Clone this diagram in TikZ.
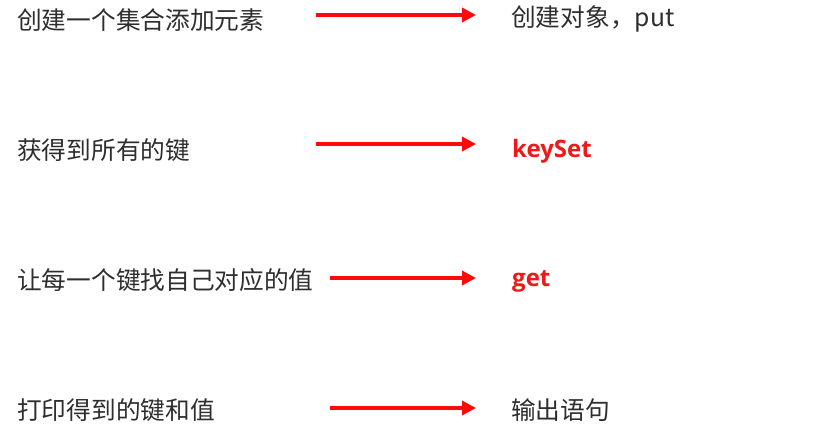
\documentclass[tikz,border=0pt]{standalone}
\usepackage{fontspec}
\usetikzlibrary{arrows.meta}
\newfontfamily\cjk{Noto Sans CJK SC}
\newfontfamily\latinbold{Open Sans Bold}
\definecolor{txtgray}{HTML}{2E2E2E}
\definecolor{arrred}{HTML}{FF0A0A}
\definecolor{keyred}{HTML}{F01818}
\begin{document}
\begin{tikzpicture}[x=1pt,y=-1pt,
  lefttxt/.style={anchor=west,inner sep=0pt,text=txtgray,font=\cjk\fontsize{24.7}{28}\selectfont},
  righttxt/.style={anchor=west,inner sep=0pt,text=txtgray,font=\cjk\fontsize{24.7}{28}\selectfont},
  keytxt/.style={anchor=west,inner sep=0pt,text=keyred,font=\latinbold\fontsize{24}{28}\selectfont},
  redarrow/.style={draw=arrred,line width=3.6pt,-{Triangle[length=14pt,width=14pt]}}]
\useasboundingbox (0,0) rectangle (826,436);
\fill[white] (0,0) rectangle (826,436);
% left texts
\node[lefttxt] (l1) at (17,20) {创建一个集合添加元素};
\node[lefttxt] (l2) at (17,150) {获得到所有的键};
\node[lefttxt] (l3) at (17,280) {让每一个键找自己对应的值};
\node[lefttxt] (l4) at (17,410) {打印得到的键和值};
% right texts
\node[righttxt] (r1) at (511,19) {创建对象，put};
\node[keytxt] (r2) at (512,151) {keySet};
\node[keytxt] (r3) at (512,281) {get};
\node[righttxt] (r4) at (511,410) {输出语句};
% arrow ends
\coordinate (a1s) at (316,15);
\coordinate (a1e) at (476,15);
\coordinate (a2s) at (316,144);
\coordinate (a2e) at (476,144);
\coordinate (a3s) at (330,278);
\coordinate (a3e) at (476,278);
\coordinate (a4s) at (330,408);
\coordinate (a4e) at (476,408);
\draw[redarrow] (a1s) -- (a1e);
\draw[redarrow] (a2s) -- (a2e);
\draw[redarrow] (a3s) -- (a3e);
\draw[redarrow] (a4s) -- (a4e);
\end{tikzpicture}
\end{document}
